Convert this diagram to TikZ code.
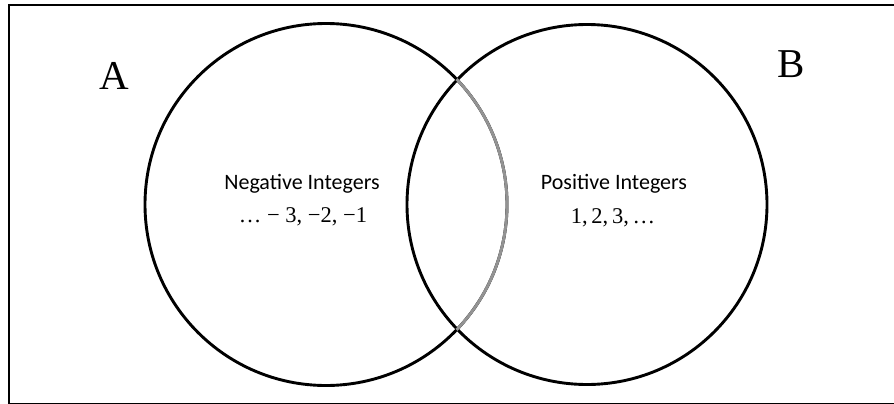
\documentclass[tikz,border=0pt]{standalone}
\usepackage{fontspec}
\setmainfont{Carlito}
\newfontfamily\serifletters{Liberation Serif}
\begin{document}
\begin{tikzpicture}[x=1pt,y=-1pt,
  setline/.style={line width=2.9pt,black},
  lbl/.style={font=\fontsize{22}{26}\selectfont,align=center,inner sep=0pt},
  numlbl/.style={font=\serifletters\fontsize{22.5}{26}\selectfont,align=center,inner sep=0pt},
  setname/.style={font=\serifletters\fontsize{41}{41}\selectfont,inner sep=0pt}]
\useasboundingbox (0,0) rectangle (894,404);
\clip (0,0) rectangle (894,404);
\draw[setline] (9,5) rectangle (900,404.5);
\node[circle,setline,draw,minimum size=362pt,inner sep=0pt] (A) at (326,204.5) {};
\node[circle,setline,draw,minimum size=360pt,inner sep=0pt] (B) at (587,204.5) {};
\draw[line width=2.9pt,gray!85] ([shift={(-43.85:181pt)}]A.center) arc[start angle=-43.85,end angle=43.85,radius=181pt];
\node[setname] (la) at (114,76) {A};
\node[setname] (lb) at (791,64) {B};
\node[lbl] (neg) at (302,184) {Negative Integers};
\node[numlbl] (negv) at (303,217) {… − 3, −2, −1};
\node[numlbl] (posv) at (613,218) {1,\,2,\,3,\,…};
\node[lbl] (pos) at (614,184) {Positive Integers};
\end{tikzpicture}
\end{document}
